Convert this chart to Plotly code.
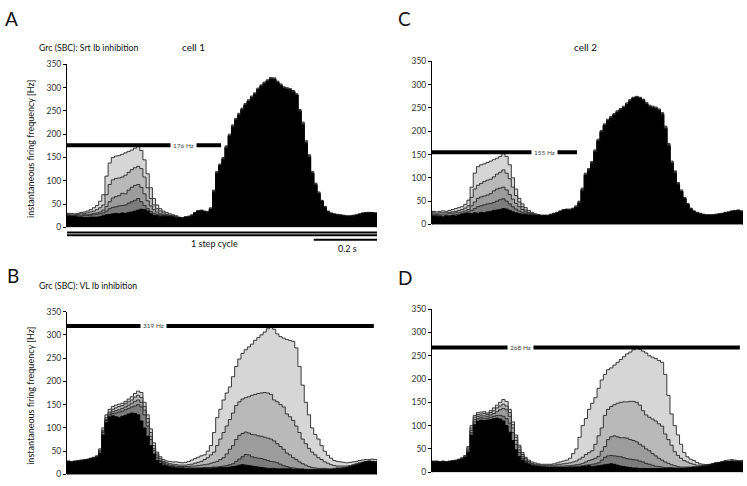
import plotly.graph_objects as go

# ---------------- data (Hz per 10 ms bin, 98 bins over one step cycle) ----------------
BIN_S = 0.01
N_BINS = 98

# Panel A: cell 1, Srt Ib inhibition (lightest -> black)
A_L1 = [30,30,29,30,32,33,35,38,42,47,56,70,110,138,150,153,154,157,160,163,
        166,170,176,165,145,115,85,62,48,40,35,32,29,27,25,22,
        21,23,24,27,32,36,37,35,34,42,80,120,136,150,175,200,220,234,245,256,
        266,274,282,289,299,306,312,317,322,321,314,308,302,300,298,294,287,253,226,186,
        156,120,95,76,58,45,35,31,29,28,27,26,25,25,26,27,29,31,32,32,32,31]
A_L2 = [28,27,27,28,29,30,31,33,35,38,42,48,70,92,102,105,106,108,112,118,
        124,128,131,126,108,85,62,48,40,35,31,28,26,25,23,21,
        20,22,23,26,31,35,36,34,33,40,78,118,134,148,173,198,218,232,243,254,
        264,272,280,287,297,304,310,315,320,319,312,306,300,298,296,292,285,251,224,184,
        154,118,93,74,57,44,34,30,28,27,26,25,24,24,25,26,28,30,31,32,31,30]
A_L3 = [26,25,25,26,26,27,27,28,30,31,33,37,45,55,63,66,68,73,72,80,
        86,90,92,86,72,57,46,38,33,29,27,26,25,24,22,21,
        20,21,23,25,31,35,36,34,32,39,77,117,133,147,172,197,217,231,242,253,
        263,271,279,286,296,303,309,314,319,318,311,305,299,297,295,291,284,250,222,182,
        152,117,92,73,56,43,34,30,28,27,26,25,24,24,25,26,28,30,31,31,31,30]
A_L4 = [25,24,24,24,24,25,25,26,27,28,29,31,35,40,43,44,46,47,48,52,
        55,58,62,55,47,40,34,30,28,27,25,24,24,23,21,20,
        19,21,22,24,30,34,35,33,31,38,76,116,132,146,171,196,216,230,241,252,
        262,270,278,285,295,302,308,313,318,317,310,304,298,296,294,290,283,249,221,181,
        151,116,91,72,55,42,33,29,27,26,25,24,23,23,24,25,27,29,30,31,31,30]
A_L5 = [24,23,24,22,22,21,21,22,22,22,23,25,27,28,29,30,29,31,30,32,
        33,35,37,39,38,35,29,26,25,24,24,24,23,22,20,20,
        19,21,22,24,30,34,35,33,31,38,75,115,132,145,170,195,215,230,240,252,
        262,270,278,285,295,302,308,313,318,317,310,304,298,296,294,290,283,248,220,180,
        150,115,90,72,55,42,33,29,27,26,25,24,23,23,24,25,27,29,30,31,31,30]

# Panel C: cell 2, Srt Ib inhibition
C_L1 = [28,27,28,29,28,30,32,34,36,38,43,52,80,110,124,128,130,133,136,139,
        142,146,155,146,128,100,76,56,44,36,30,26,23,21,20,20,
        20,22,24,26,29,32,33,33,35,40,50,78,110,120,135,160,183,202,216,226,
        232,238,244,249,254,261,268,273,275,273,269,262,256,254,252,248,240,211,174,136,
        115,90,74,58,45,35,29,26,24,22,21,21,21,22,23,24,26,27,29,30,31,29]
C_L2 = [25,24,25,25,25,26,27,28,30,32,35,40,58,76,84,88,92,95,97,102,
        108,112,117,110,98,80,62,48,38,31,26,23,21,20,19,19,
        19,21,23,25,28,31,32,32,34,38,48,76,108,118,133,158,181,200,214,224,
        230,236,242,247,252,259,266,272,274,272,268,260,254,252,250,246,238,209,172,134,
        113,88,72,57,44,34,28,25,23,21,20,20,20,21,22,23,25,26,28,29,30,28]
C_L3 = [22,21,22,22,22,23,24,25,26,27,29,32,40,48,56,59,61,63,66,72,
        76,78,80,74,64,54,45,38,32,27,24,22,21,20,19,19,
        18,20,22,24,27,30,31,31,33,37,47,74,107,117,132,157,180,199,213,223,
        229,235,241,246,251,258,265,271,273,271,267,259,253,251,249,245,237,207,170,132,
        112,87,71,56,43,33,28,25,23,21,20,20,20,21,22,23,25,26,28,29,30,28]
C_L4 = [20,19,19,18,19,19,20,21,22,23,25,27,30,34,38,40,42,44,45,47,
        50,53,55,50,44,38,33,29,26,24,22,21,20,19,19,19,
        18,20,22,24,27,30,31,30,32,36,46,73,106,116,131,156,179,198,212,222,
        228,234,240,245,250,257,264,270,272,270,266,258,252,250,248,244,236,206,169,131,
        111,86,70,55,42,32,27,24,22,20,19,19,19,20,21,22,24,25,27,28,29,27]
C_L5 = [18,17,17,16,18,17,19,18,20,22,23,24,23,25,24,26,25,27,28,30,
        31,32,34,33,30,27,25,23,22,21,20,20,19,19,18,19,
        18,20,22,24,27,30,31,30,32,36,45,72,105,115,130,155,178,198,212,222,
        228,234,240,245,250,257,264,270,272,270,266,258,252,250,248,244,235,205,168,130,
        110,85,70,55,42,32,27,24,22,20,19,19,19,20,21,22,24,25,27,28,29,27]

# Panel B: cell 1, VL Ib inhibition
B_L1 = [29,28,29,30,31,32,33,35,37,40,55,100,128,140,146,149,151,153,157,162,
        167,174,179,176,155,128,98,68,48,38,32,29,28,27,27,26,25,26,28,31,
        34,37,40,42,50,62,90,122,140,160,175,188,210,232,248,260,268,274,280,288,
        294,300,306,313,320,312,302,296,293,290,288,286,272,232,192,155,128,100,86,76,
        62,50,41,35,30,28,27,26,25,26,27,28,30,31,32,32,33,32]
B_L2 = [28,27,28,29,30,31,32,34,36,39,52,95,122,134,140,143,146,148,152,156,
        160,166,170,165,146,120,90,62,44,34,28,25,23,22,21,20,20,20,21,22,
        24,26,28,32,36,42,48,62,76,90,104,118,132,148,156,162,165,167,170,172,
        174,175,176,175,172,160,156,150,145,130,124,116,104,90,76,66,56,48,42,36,
        32,27,24,21,19,18,18,18,18,19,21,23,25,26,27,28,28,27]
B_L3 = [27,27,28,28,29,30,31,33,35,38,50,92,118,130,135,137,139,142,145,149,
        153,157,160,155,138,112,82,56,40,30,25,22,20,19,18,17,17,17,17,18,
        18,19,20,21,22,24,26,28,32,36,44,54,62,75,84,88,91,89,86,85,
        83,82,80,78,76,72,66,60,54,46,42,36,32,27,23,20,17,15,14,13,
        13,13,12,12,13,14,14,15,16,17,19,21,23,25,27,28,28,27]
B_L4 = [27,26,27,28,29,30,31,33,35,37,48,90,116,128,131,132,134,136,139,142,
        145,147,150,145,128,104,75,52,36,28,23,20,18,17,16,15,15,14,14,14,
        14,14,14,15,15,15,16,16,17,18,19,21,23,28,33,38,43,42,38,36,
        35,34,32,30,28,27,25,22,19,17,15,14,13,12,12,11,11,11,11,11,
        11,11,11,11,12,13,13,14,15,17,19,21,23,26,28,29,28,27]
B_L5 = [27,26,27,28,29,30,31,33,35,37,45,85,112,124,126,124,122,125,127,130,
        132,131,128,115,100,82,62,44,30,24,20,18,16,15,14,13,13,12,13,13,
        12,13,13,13,13,13,14,14,15,15,15,16,17,18,20,21,20,19,18,17,
        16,15,14,13,13,13,12,12,12,12,12,11,11,11,11,10,10,10,10,10,
        10,10,10,10,11,12,12,13,14,16,18,20,22,25,27,28,27,26]

# Panel D: cell 2, VL Ib inhibition
D_L1 = [24,24,23,24,23,24,25,26,28,31,36,55,100,122,128,129,130,127,132,138,
        144,150,156,152,135,108,80,58,42,32,26,22,20,18,17,17,17,17,18,20,
        22,24,26,30,40,50,75,100,115,135,148,160,180,198,210,220,224,230,236,242,
        248,254,258,263,267,264,260,256,250,247,244,240,236,210,165,125,100,80,60,42,
        33,28,25,21,18,17,16,16,17,18,20,23,25,26,27,26,25,25]
D_L2 = [23,23,22,23,22,23,24,25,27,30,34,52,95,118,124,125,126,124,128,132,
        138,142,146,142,128,102,75,54,38,29,23,19,17,16,15,15,15,15,15,16,
        17,18,19,20,22,24,28,32,38,42,46,60,78,95,122,135,141,145,148,150,
        151,151,152,152,150,144,132,123,118,114,110,104,99,82,70,58,44,36,30,25,
        22,19,17,15,15,15,16,17,18,19,20,21,22,23,24,24,23,22]
D_L3 = [22,22,22,22,22,23,24,25,27,29,33,48,90,113,120,121,121,120,123,126,
        130,134,137,134,120,95,68,48,34,26,20,17,15,14,13,13,13,13,13,13,
        13,13,14,14,15,16,17,19,22,25,27,30,34,45,55,70,76,78,76,74,
        74,73,70,68,65,60,56,50,46,40,35,30,26,22,19,16,14,12,11,11,
        11,11,12,12,13,14,15,16,18,20,21,22,23,23,24,23,23,22]
D_L4 = [22,22,21,22,21,22,23,24,26,28,32,45,85,108,115,117,116,116,118,120,
        122,122,120,115,105,85,60,42,30,23,18,15,14,13,12,12,11,11,11,11,
        11,11,11,12,12,13,13,14,15,16,17,18,20,26,32,35,36,35,34,33,
        31,29,28,27,26,24,22,19,17,15,13,12,11,10,10,10,9,9,9,9,
        9,10,10,11,12,13,14,16,18,20,21,22,22,23,23,23,22,22]
D_L5 = [22,22,21,22,21,22,23,24,26,28,31,42,80,102,110,112,111,112,113,115,
        116,114,110,100,86,68,48,34,26,20,17,14,13,12,11,11,10,10,10,10,
        10,10,10,10,10,11,11,12,13,14,12,13,14,15,16,17,18,17,15,13,
        12,11,10,9,9,8,8,8,8,8,8,8,8,8,8,8,8,8,8,8,
        9,9,10,10,11,12,13,15,17,19,20,21,22,22,23,22,22,21]

PEAK_HZ = [176, 155, 319, 268]          # A, C, B, D
PEAK_LINE_END_S = [0.487, 0.457, 0.970, 0.970]
PEAK_LABEL_S = [0.369, 0.353, 0.272, 0.280]
Y_TICKS = [0, 50, 100, 150, 200, 250, 300, 350]
SCALE_BAR_S = 0.2

# ---------------- figure ----------------
W, H = 747, 486
FONT = "Lato"
COLORS = ["#d6d6d6", "#b9b9b9", "#9c9c9c", "#7c7c7c", "#000000"]

def px(x):
    return x / W

def py(y):
    return 1 - y / H

edges = [round(i * BIN_S, 4) for i in range(N_BINS + 1)]
x_end = edges[-1]

def step_xy(vals):
    xs = [0.0] + edges[:N_BINS] + [x_end, x_end]
    ys = [0] + list(vals) + [vals[-1], 0]
    return xs, ys

panels = [
    ("x", "y", [A_L1, A_L2, A_L3, A_L4, A_L5]),
    ("x2", "y2", [C_L1, C_L2, C_L3, C_L4, C_L5]),
    ("x3", "y3", [B_L1, B_L2, B_L3, B_L4, B_L5]),
    ("x4", "y4", [D_L1, D_L2, D_L3, D_L4, D_L5]),
]

fig = go.Figure()
for xa, ya, layers in panels:
    for k, vals in enumerate(layers):
        xs, ys = step_xy(vals)
        fig.add_trace(go.Scatter(
            x=xs, y=ys, xaxis=xa, yaxis=ya, mode="lines",
            line=dict(shape="hv", color="#262626" if k < 4 else "#000000", width=0.9),
            fill="tozeroy", fillcolor=COLORS[k], hoverinfo="skip", showlegend=False))

# axis domains in pixels: (x0, x1, y_bottom(0 Hz), y_top(350 Hz))
doms = {
    "1": (67, 377, 227, 60.6),
    "2": (432, 743, 224, 57.6),
    "3": (67, 377, 479.3, 313),
    "4": (432, 743, 477, 310.6),
}
layout = dict(width=W, height=H, margin=dict(l=0, r=0, t=0, b=0),
              paper_bgcolor="white", plot_bgcolor="white", showlegend=False,
              font=dict(family=FONT, color="#222"))
for key, (x0, x1, yb, yt) in doms.items():
    sfx = "" if key == "1" else key
    layout["xaxis" + sfx] = dict(domain=[px(x0), px(x1)], range=[0, x_end],
                                 visible=False, fixedrange=True)
    layout["yaxis" + sfx] = dict(domain=[py(yb), py(yt)], range=[0, 350],
                                 tickvals=Y_TICKS, ticks="outside", ticklen=3,
                                 tickwidth=1, tickcolor="#000", showline=True,
                                 linecolor="#000", linewidth=1, showgrid=False,
                                 zeroline=False, tickfont=dict(size=8.5, family=FONT, color="#333"),
                                 anchor="x" + sfx, fixedrange=True)
fig.update_layout(**layout)

shapes = []
annotations = []
axes_keys = ["", "2", "3", "4"]
for i, sfx in enumerate(axes_keys):
    shapes.append(dict(type="line", xref="x" + sfx, yref="y" + sfx,
                       x0=0, x1=PEAK_LINE_END_S[i], y0=PEAK_HZ[i], y1=PEAK_HZ[i],
                       line=dict(color="#000", width=4)))
    annotations.append(dict(xref="x" + sfx, yref="y" + sfx, x=PEAK_LABEL_S[i], y=PEAK_HZ[i],
                            text=f"{PEAK_HZ[i]} Hz", showarrow=False, bgcolor="white",
                            borderpad=2, font=dict(size=6.5, family=FONT, color="#444")))

# step cycle bar and scale bar under panel A
shapes.append(dict(type="line", xref="x", yref="paper", x0=0, x1=x_end,
                   y0=py(232.2), y1=py(232.2), line=dict(color="#000", width=2)))
shapes.append(dict(type="line", xref="x", yref="paper", x0=0, x1=x_end,
                   y0=py(235.2), y1=py(235.2), line=dict(color="#000", width=2)))
shapes.append(dict(type="line", xref="x", yref="paper", x0=x_end - SCALE_BAR_S, x1=x_end,
                   y0=py(239.7), y1=py(239.7), line=dict(color="#000", width=2.2)))

def txt(x, y, s, size, xanchor="center", angle=0):
    return dict(xref="paper", yref="paper", x=px(x), y=py(y), text=s, showarrow=False,
                xanchor=xanchor, yanchor="middle", textangle=angle,
                font=dict(size=size, family=FONT, color="#111"))

annotations += [
    txt(3, 14, "A", 19, "left"),
    txt(396, 14, "C", 19, "left"),
    txt(5, 276, "B", 19, "left"),
    txt(396, 278, "D", 19, "left"),
    txt(193, 43, "cell 1", 10),
    txt(585, 43, "cell 2", 10),
    txt(37, 43, "Grc (SBC): Srt Ib inhibition", 8.7, "left"),
    txt(37, 286, "Grc (SBC): VL Ib inhibition", 8.7, "left"),
    txt(31, 147, "instantaneous firing frequency [Hz]", 9, "center", -90),
    txt(31, 399, "instantaneous firing frequency [Hz]", 9, "center", -90),
    txt(214, 243, "1 step cycle", 9),
    txt(347, 249, "0.2 s", 9),
]
fig.update_layout(shapes=shapes, annotations=annotations)

fig.write_html("out.html", config={"displayModeBar": False, "staticPlot": True},
               post_script="document.body.style.margin='0';document.body.style.padding='0';")
